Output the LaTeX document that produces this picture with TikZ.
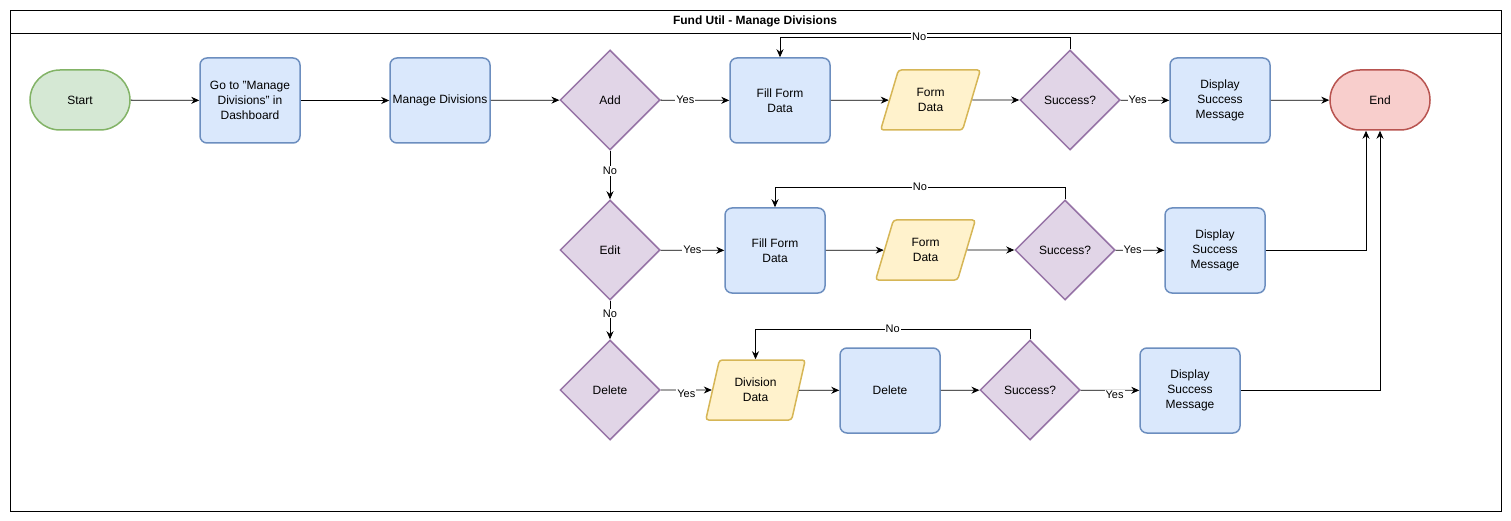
\documentclass[tikz,border=0pt]{standalone}
\usepackage{fontspec}
\setmainfont{Liberation Sans}
\usetikzlibrary{arrows.meta,shapes.geometric}

\definecolor{startfill}{HTML}{D5E8D4}
\definecolor{startline}{HTML}{82B366}
\definecolor{endfill}{HTML}{F8CECC}
\definecolor{endline}{HTML}{B85450}
\definecolor{procfill}{HTML}{DAE8FC}
\definecolor{procline}{HTML}{6C8EBF}
\definecolor{decfill}{HTML}{E1D5E7}
\definecolor{decline}{HTML}{9673A6}
\definecolor{datafill}{HTML}{FFF2CC}
\definecolor{dataline}{HTML}{D6B656}

\tikzset{
  shapetext/.style={font=\fontsize{12}{15}\selectfont, align=center, inner sep=0pt},
  terminal/.style={shapetext, draw, line width=1.5pt, rounded corners=30pt,
    minimum width=100pt, minimum height=60pt},
  process/.style={shapetext, draw=procline, fill=procfill, line width=1.5pt,
    rounded corners=7pt, minimum width=100pt, minimum height=85pt},
  decision/.style={shapetext, diamond, draw=decline, fill=decfill, line width=1.5pt,
    minimum width=100pt, minimum height=100pt},
  iodata/.style={shapetext, trapezium, trapezium left angle=71.6, trapezium right angle=108.4,
    trapezium stretches=true, draw=dataline, fill=datafill, line width=1.5pt, rounded corners=3pt,
    minimum width=100pt, minimum height=60pt},
  flow/.style={draw, line width=0.8pt, -{Stealth[length=8pt,width=7pt]}},
  choice/.style={font=\fontsize{11}{12}\selectfont, fill=white, inner sep=1pt}
}

\begin{document}
\begin{tikzpicture}[x=1pt, y=-1pt]
			%%%%% START %%%%%
			\useasboundingbox (0, 0) rectangle (1511, 521);
			
			\draw[line width=0.8pt] (10, 10) rectangle (1501, 511);
			\draw[line width=0.8pt] (10, 33) -- (1501, 33);
			\node[font=\bfseries\fontsize{12}{14}\selectfont] (title) at (755, 21) {Fund Util - Manage Divisions};
			
			% first row
			\node[terminal, draw=startline, fill=startfill] (start) at (80, 100) {Start};
			\node[process] (goto) at (250, 100.5) {Go to "Manage\\Divisions" in\\Dashboard};
			\node[process] (manage) at (440, 100.5) {Manage Divisions};
			\node[decision] (add) at (610, 100) {Add};
			\node[process] (addfill) at (780, 100.5) {Fill Form\\Data};
			\node[iodata] (addform) at (930.5, 100) {Form\\Data};
			\node[decision] (addok) at (1070, 100) {Success?};
			\node[process] (addmsg) at (1220, 100.5) {Display\\Success\\Message};
			\node[terminal, draw=endline, fill=endfill] (end) at (1380, 100) {End};
			
			% second row
			\node[decision] (edit) at (610, 250) {Edit};
			\node[process] (editfill) at (775, 250.5) {Fill Form\\Data};
			\node[iodata] (editform) at (925.5, 250) {Form\\Data};
			\node[decision] (editok) at (1065, 250) {Success?};
			\node[process] (editmsg) at (1215, 250.5) {Display\\Success\\Message};
			
			% third row
			\node[decision] (del) at (610, 390) {Delete};
			\node[iodata] (deldata) at (755.5, 390) {Division\\Data};
			\node[process] (delrun) at (890, 390.5) {Delete};
			\node[decision] (delok) at (1030, 390) {Success?};
			\node[process] (delmsg) at (1190, 390.5) {Display\\Success\\Message};
			
			% connectors
			\draw[flow] (start) -- (goto);
			\draw[flow] (goto) -- (manage);
			\draw[flow] (manage) -- (add);
			\draw[flow] (add) -- node[choice, pos=0.36] {Yes} (addfill);
			\draw[flow] (addfill) -- (addform);
			\draw[flow] (addform) -- (addok);
			\draw[flow] (addok) -- node[choice, pos=0.35] {Yes} (addmsg);
			\draw[flow] (addmsg) -- (end);
			\draw[flow] (addok.north) -- ++(0, -12) -| node[choice, pos=0.26] {No} (addfill.north);
			
			\draw[flow] (add) -- node[choice, pos=0.42] {No} (edit);
			\draw[flow] (edit) -- node[choice, pos=0.5] {Yes} (editfill);
			\draw[flow] (editfill) -- (editform);
			\draw[flow] (editform) -- (editok);
			\draw[flow] (editok) -- node[choice, pos=0.35] {Yes} (editmsg);
			\draw[flow] (editok.north) -- ++(0, -12) -| node[choice, pos=0.25] {No} (editfill.north);
			\draw[flow] (editmsg.east) -| ([xshift=-14pt]end.south);
			
			\draw[flow] (edit) -- node[choice, pos=0.33] {No} (del);
			\draw[flow] (del) -- node[choice, pos=0.5, yshift=-4pt] {Yes} (deldata);
			\draw[flow] (deldata) -- (delrun);
			\draw[flow] (delrun) -- (delok);
			\draw[flow] (delok) -- node[choice, pos=0.58, yshift=-5pt] {Yes} (delmsg);
			\draw[flow] (delok.north) -- ++(0, -10) -| node[choice, pos=0.25] {No} (deldata.north);
			\draw[flow] (delmsg.east) -| (end.south);
			%%%%% END %%%%%
\end{tikzpicture}
\end{document}
